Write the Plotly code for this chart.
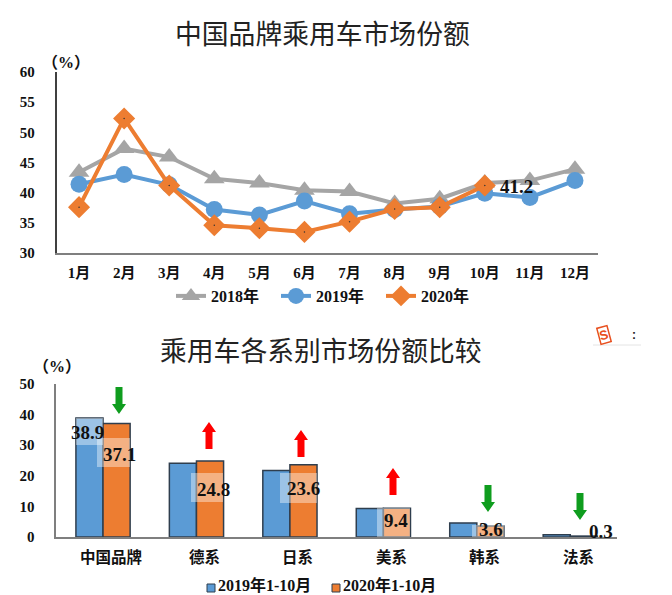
import plotly.graph_objects as go

W, H = 672, 595
months = ["1月","2月","3月","4月","5月","6月","7月","8月","9月","10月","11月","12月"]
share_2018 = [43.4,47.3,45.9,42.3,41.6,40.4,40.2,38.2,39.0,41.6,42.0,43.9]
share_2019 = [41.4,43.0,41.3,37.2,36.3,38.6,36.5,37.2,37.7,39.9,39.2,42.0]
share_2020 = [37.6,52.3,41.2,34.6,34.1,33.5,35.2,37.3,37.6,41.2]
groups = ["中国品牌","德系","日系","美系","韩系","法系"]
bars_2019 = [38.9,24.1,21.7,9.3,4.6,0.7]
bars_2020 = [37.1,24.8,23.6,9.4,3.6,0.3]
directions = ["down","up","up","up","down","down"]
bar_names = ["2019年1-10月","2020年1-10月"]
FONT = "Liberation Serif, Noto Sans CJK SC"
TITLE = "Noto Sans CJK SC"
BLUE, ORANGE, GREY = "#5B9BD5", "#ED7D31", "#A5A5A5"

def px(x): return x / W
def py(y): return 1 - y / H

fig = go.Figure()
for name, vals, col, sym, size in [
    ("2018年", share_2018, GREY, "triangle-up", 18),
    ("2019年", share_2019, BLUE, "circle", 17),
    ("2020年", share_2020, ORANGE, "diamond", 17)]:
    fig.add_trace(go.Scatter(x=months, y=vals, name=name, mode="lines+markers", xaxis="x", yaxis="y",
        line=dict(color=col, width=4), marker=dict(symbol=sym, size=size, color=col), legend="legend"))
fig.add_trace(go.Scatter(x=months, y=share_2020, mode="markers", showlegend=False, xaxis="x", yaxis="y",
    marker=dict(symbol="circle", size=1.5, color="#333")))
fig.add_trace(go.Bar(x=groups, y=bars_2019, name=bar_names[0], xaxis="x2", yaxis="y2", showlegend=False,
    marker=dict(color=BLUE, line=dict(color="#2F3E4E", width=1.5))))
fig.add_trace(go.Bar(x=groups, y=bars_2020, name=bar_names[1], xaxis="x2", yaxis="y2", showlegend=False,
    marker=dict(color=ORANGE, line=dict(color="#2F3E4E", width=1.5))))

shapes, ann = [], []
def text(x, y, s, size=14, bold=True, color="#111", family=FONT, xanchor="center", **kw):
    ann.append(dict(x=px(x), y=py(y), xref="paper", yref="paper", text=f"<b>{s}</b>" if bold else s,
        showarrow=False, font=dict(family=family, size=size, color=color), xanchor=xanchor, yanchor="middle", **kw))
text(322, 32, "中国品牌乘用车市场份额", 26.8, False, "#222", TITLE)
text(321, 349, "乘用车各系别市场份额比较", 26.8, False, "#222", TITLE)
text(66, 63, "（%）", 16)
text(57, 366, "（%）", 16)

# category labels sit slightly right of the bar groups
for g in groups:
    ann.append(dict(x=g, xref="x2", y=py(557), yref="paper", text=f"<b>{g}</b>", showarrow=False, xshift=8,
        yanchor="middle", font=dict(family=FONT, size=15.5, color="#111")))

# manual bar legend with small square swatches
for x0, col, name, tx in [(207, BLUE, bar_names[0], 218), (332, ORANGE, bar_names[1], 343)]:
    shapes.append(dict(type="rect", xref="paper", yref="paper", x0=px(x0), x1=px(x0+8), y0=py(592), y1=py(584),
        fillcolor=col, line=dict(color="#2F3E4E", width=1)))
    text(tx, 585, name, 16, xanchor="left", xshift=-2)

# translucent label backgrounds
for x0, y0, x1, y1 in [(76,418,103,445),(97,438,130,467),(191,473,223,502),(280,473,317,503),(377,508,410,537),(472,525,504,537)]:
    shapes.append(dict(type="rect", xref="paper", yref="paper", x0=px(x0), x1=px(x1), y0=py(y0), y1=py(y1),
        fillcolor="rgba(255,255,255,0.4)", line=dict(width=0), layer="above"))
# value labels
label_font = dict(family=FONT, size=19, color="#111")
ann.append(dict(x="10月", y=share_2020[9], xref="x", yref="y", text=f"<b>{share_2020[9]}</b>", showarrow=False,
    xshift=32, yshift=-1, font=label_font))
for (g, v, xs, ys) in [("中国品牌",38.9,-16,-15),("中国品牌",37.1,16,-31),("德系",24.8,17,-28),("日系",23.6,14,-24),("美系",9.4,13,-12),("韩系",3.6,14,-4),("法系",0.3,31,5)]:
    ann.append(dict(x=g, y=v, xref="x2", yref="y2", text=f"<b>{v}</b>", showarrow=False, xshift=xs, yshift=ys,
        yanchor="middle", font=label_font))

# trend arrows (pixel centre x, top y)
arrow_pos = [(119,387),(209,422),(301,430),(393,468),(488,485),(580,493)]
for (cx, top), d in zip(arrow_pos, directions):
    L, hw, sw, hh = 27, 7, 3.5, 10
    if d == "up":
        pts = [(cx,top),(cx+hw,top+hh),(cx+sw,top+hh),(cx+sw,top+L),(cx-sw,top+L),(cx-sw,top+hh),(cx-hw,top+hh)]
        col = "#FF0000"
    else:
        pts = [(cx-sw,top),(cx+sw,top),(cx+sw,top+L-hh),(cx+hw,top+L-hh),(cx,top+L),(cx-hw,top+L-hh),(cx-sw,top+L-hh)]
        col = "#0F9D1E"
    path = "M" + " L".join(f"{px(a):.5f},{py(b):.5f}" for a, b in pts) + " Z"
    shapes.append(dict(type="path", xref="paper", yref="paper", path=path, fillcolor=col, line=dict(width=0), layer="above"))

# small input-method badge
ann.append(dict(x=px(612), y=py(335), xref="paper", yref="paper", text="<b>S</b>", showarrow=False, textangle=-15,
    font=dict(family="Liberation Sans", size=13, color="#E8501F"), bordercolor="#E8501F", borderwidth=1.5, borderpad=0, bgcolor="#FFF"))
text(634, 335, ":", 12, True, "#222", "Liberation Sans")
shapes.append(dict(type="line", xref="paper", yref="paper", x0=px(593), x1=px(641), y0=py(345), y1=py(345), line=dict(color="#E4E4E4", width=1)))

tick = dict(family=FONT, size=15, color="#111", weight="bold")
fig.update_layout(
    width=W, height=H, margin=dict(l=0, r=0, t=0, b=0, autoexpand=False), paper_bgcolor="white", plot_bgcolor="white",
    barmode="group", bargap=0.42, bargroupgap=0, shapes=shapes, annotations=ann,
    xaxis=dict(domain=[px(56.5), px(597.5)], anchor="y", type="category", categoryorder="array", categoryarray=months,
        range=[-0.5, 11.5], showgrid=False, showline=True, linecolor="#7F7F7F", linewidth=1.5, ticks="", tickfont=tick, ticklabelstandoff=5),
    yaxis=dict(domain=[py(253), py(72)], anchor="x", range=[30, 60], dtick=5, showgrid=False, zeroline=False, showline=True,
        linecolor="#404040", linewidth=1.5, ticks="", tickfont=tick, ticklabelstandoff=17),
    xaxis2=dict(domain=[px(56.3), px(617)], anchor="y2", type="category", categoryorder="array", categoryarray=groups,
        showgrid=False, showline=True, linecolor="#7F7F7F", linewidth=1.5, ticks="", showticklabels=False),
    yaxis2=dict(domain=[py(537), py(384)], anchor="x2", range=[0, 50], dtick=10, showgrid=False, zeroline=False, showline=True,
        linecolor="#7F7F7F", linewidth=1.5, ticks="", tickfont=tick, ticklabelstandoff=17),
    legend=dict(orientation="h", x=px(171), y=py(296), xanchor="left", yanchor="middle", traceorder="normal",
        font=dict(family=FONT, size=16, color="#111", weight="bold"), bgcolor="rgba(0,0,0,0)", itemwidth=30, entrywidth=60, entrywidthmode="pixels"),
)
fig.write_html("out.html", config=dict(displayModeBar=False), post_script="document.body.style.margin='0';")
